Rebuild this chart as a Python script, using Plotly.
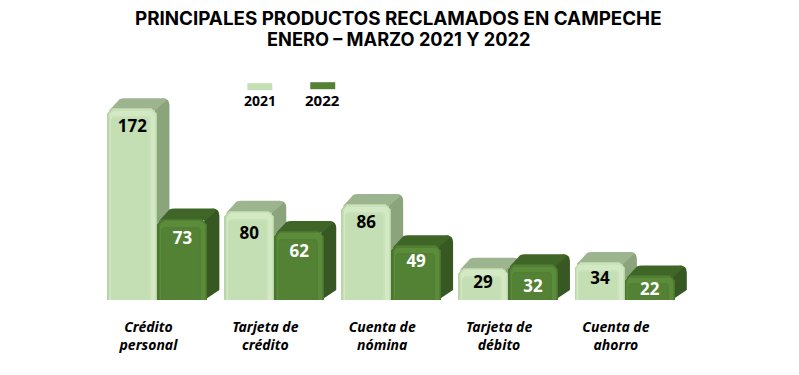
import plotly.graph_objects as go

categories = ["Crédito<br>personal", "Tarjeta de<br>crédito", "Cuenta de<br>nómina", "Tarjeta de<br>débito", "Cuenta de<br>ahorro"]
values_2021 = [172, 80, 86, 29, 34]
values_2022 = [73, 62, 49, 32, 22]
series_names = ["2021", "2022"]
title_lines = ["PRINCIPALES PRODUCTOS RECLAMADOS EN CAMPECHE", "ENERO – MARZO 2021 Y 2022"]
label_drop_2021 = [20, 24, 20, 16, 18]
label_drop_2022 = [21, 22, 17, 23, 15]

W, H = 799, 375
PX_X = 117.0      # pixels per category
PX_Y = 1.116      # pixels per value unit
L, B = 98.5, 75
XR = (-0.5, 4.6)
YR = (0, 200)
BAR = 50 / PX_X
DX, DY = 12 / PX_X, 10 / PX_Y
px = lambda p: p / PX_X
py = lambda p: p / PX_Y
PW = PX_X * (XR[1] - XR[0])
PH = PX_Y * YR[1]

STYLES = {
    "2021": dict(edge="#BAD5A9", mid="#C9E2B9", hi="#D2E9C4", base="#C5DFB4", top="#9DB58E", side="#8BA47C", text="black"),
    "2022": dict(edge="#4A7530", mid="#527F34", hi="#5B8C3A", base="#548235", top="#3F6527", side="#375822", text="white"),
}

fig = go.Figure()
shapes = []


def add_series(name, values, side):
    st = STYLES[name]
    xs = [k + side * BAR / 2 for k in range(len(values))]
    # depth faces, drawn under the bars
    for x, v in zip(xs, values):
        xl, xr = x - BAR / 2, x + BAR / 2
        r = px(7)
        rr = py(7)
        side_path = (f"M{xr-px(3):.4f},{v-py(2):.3f} L{xr+DX-r:.4f},{v+DY:.3f} "
                     f"Q{xr+DX:.4f},{v+DY:.3f} {xr+DX:.4f},{v+DY-rr:.3f} "
                     f"L{xr+DX:.4f},{DY:.3f} L{xr-px(3):.4f},0 Z")
        top_path = (f"M{xl+px(2):.4f},{v-py(2):.3f} L{xl+DX:.4f},{v+DY-py(1):.3f} "
                    f"Q{xl+DX+px(2):.4f},{v+DY:.3f} {xl+DX+px(5):.4f},{v+DY:.3f} "
                    f"L{xr+DX-r:.4f},{v+DY:.3f} Q{xr+DX-px(2):.4f},{v+DY:.3f} {xr+DX-px(4):.4f},{v+DY-py(3):.3f} "
                    f"L{xr-px(2):.4f},{v-py(2):.3f} Z")
        shapes.append(dict(type="path", path=side_path, xref="x", yref="y", layer="below",
                           fillcolor=st["side"], line=dict(width=0)))
        shapes.append(dict(type="path", path=top_path, xref="x", yref="y", layer="below",
                           fillcolor=st["top"], line=dict(width=0)))
    # front face: nested bars for a soft bevel
    layers = [
        (0, 0, 0, st["edge"], 8),
        (1.5, 1, 1, st["mid"], 7),
        (2.5, 2, 2.5, st["hi"], 6),
        (3.5, 6, 8, st["mid"], 4),
        (4, 8, 10, st["base"], 3),
    ]
    for il, ir, it, col, rad in layers:
        fig.add_trace(go.Bar(
            x=[x - BAR / 2 + px(il) for x in xs],
            y=[v - py(it) for v in values],
            width=BAR - px(il + ir),
            offset=0,
            marker=dict(color=col, line=dict(width=0), cornerradius=rad),
            showlegend=False, hoverinfo="skip",
        ))


add_series("2021", values_2021, -1)
add_series("2022", values_2022, +1)

# value labels
for name, values, drops, side in (("2021", values_2021, label_drop_2021, -1),
                                  ("2022", values_2022, label_drop_2022, 1)):
    fig.add_trace(go.Scatter(
        x=[k + side * BAR / 2 for k in range(len(values))],
        y=[v - py(d) for v, d in zip(values, drops)],
        mode="text", text=[str(v) for v in values],
        textposition="middle center",
        textfont=dict(family="Noto Sans", size=17, weight="bold", color=STYLES[name]["text"]),
        showlegend=False, hoverinfo="skip",
    ))

# legend built from paper-referenced swatches and labels
annotations = []
for name, cx, sy, fs in ((series_names[0], 259.5, 86.5, 14), (series_names[1], 322.5, 85.5, 15)):
    shapes.append(dict(type="rect", xref="paper", yref="paper",
                       x0=(cx - 12.5 - L) / PW, x1=(cx + 12.5 - L) / PW,
                       y0=((H - B) - (sy + 3.5)) / PH, y1=((H - B) - (sy - 3.5)) / PH,
                       fillcolor=STYLES[name]["base"], line=dict(width=0)))
    annotations.append(dict(xref="paper", yref="paper", showarrow=False, text=name,
                            x=(cx - L) / PW, y=((H - B) - 100) / PH,
                            xanchor="center", yanchor="middle",
                            font=dict(family="Noto Sans", size=fs, weight="bold", color="black")))

# title as two centred lines
for line, cy, size in ((title_lines[0], 18, 18.8), (title_lines[1], 39, 18.2)):
    annotations.append(dict(xref="paper", yref="paper", showarrow=False, text=line,
                            x=(398 - L) / PW, y=((H - B) - cy) / PH,
                            xanchor="center", yanchor="middle",
                            font=dict(family="Inter", size=size, weight="bold", color="black")))

fig.update_layout(
    width=W, height=H,
    margin=dict(l=L, r=W - L - PW, b=B, t=H - B - PH, pad=0),
    paper_bgcolor="white", plot_bgcolor="white",
    barmode="overlay", bargap=0,
    showlegend=False,
    xaxis=dict(range=list(XR), showgrid=False, zeroline=False, showline=False,
               tickmode="array", tickvals=[k - 9 / PX_X for k in range(len(categories))],
               ticktext=categories, ticks="outside", ticklen=14, tickcolor="rgba(0,0,0,0)",
               tickfont=dict(family="Noto Sans", size=14, weight="bold", style="italic", color="black")),
    yaxis=dict(range=list(YR), visible=False, showgrid=False, zeroline=False),
    shapes=shapes, annotations=annotations,
)

fig.write_html("out.html", config={"displayModeBar": False},
               post_script="document.body.style.margin='0';document.body.style.overflow='hidden';")
